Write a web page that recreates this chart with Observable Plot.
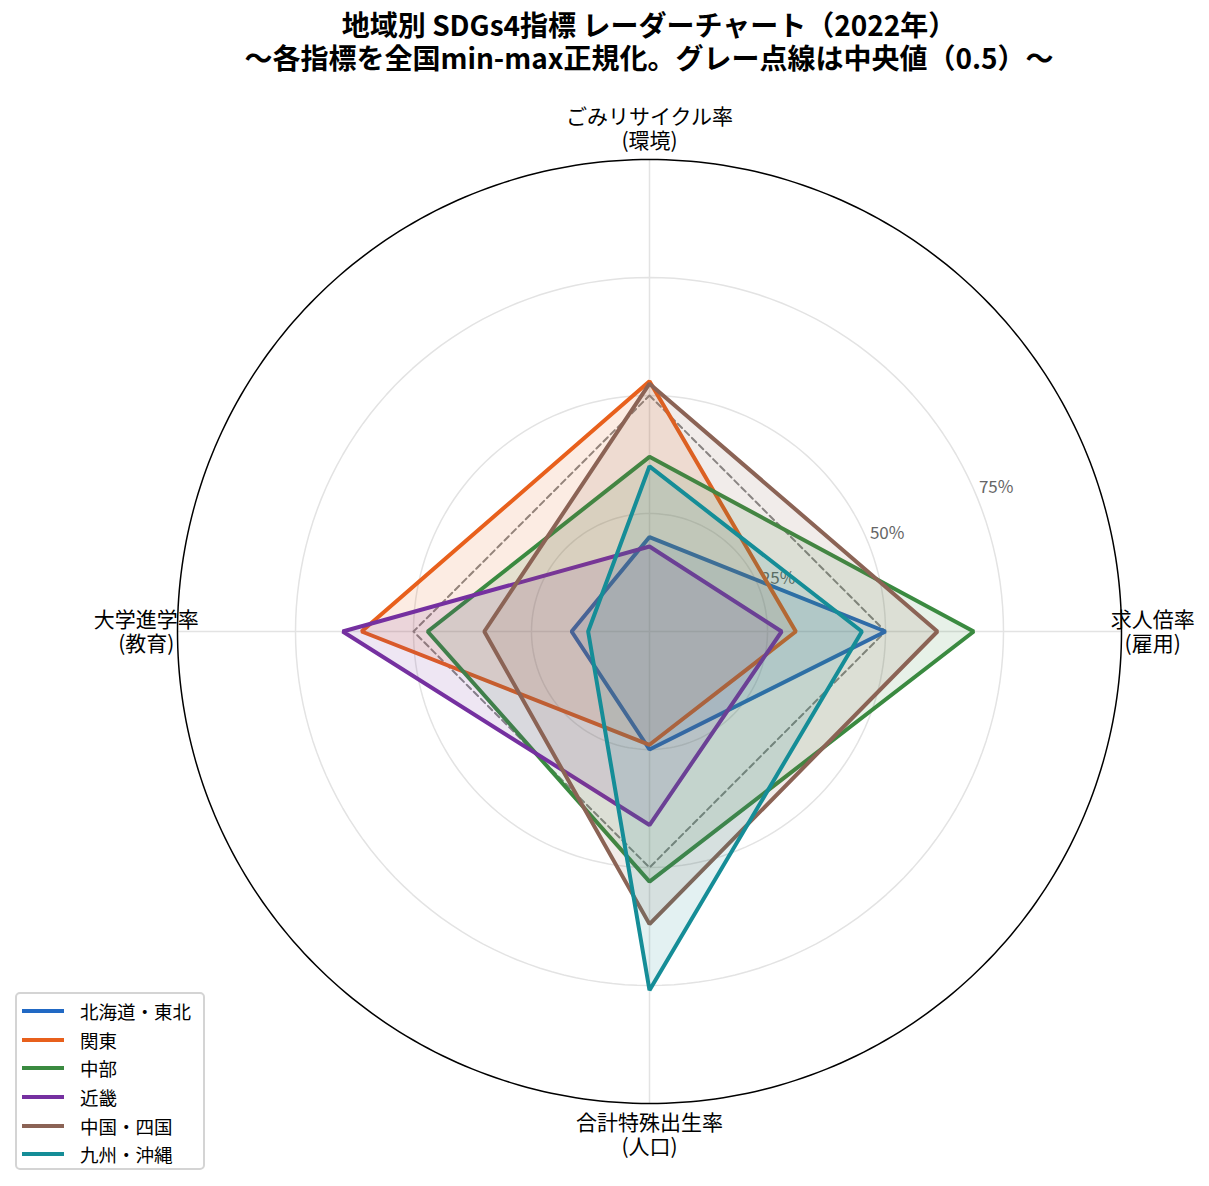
<!DOCTYPE html>
<html>
<head>
<meta charset="utf-8">
<script src="https://cdn.jsdelivr.net/npm/d3@7"></script>
<script src="https://cdn.jsdelivr.net/npm/@observablehq/plot@0.6"></script>
<style>
  html, body { margin: 0; padding: 0; background: white; }
  body { width: 1209px; height: 1186px; position: relative; overflow: hidden;
         font-family: "Noto Sans CJK JP", "Noto Sans", sans-serif; }
  #title { position: relative; height: 90px; }
  #title div { position: absolute; left: 649px; transform: translateX(-50%); white-space: nowrap;
               font-weight: bold; font-size: 28px; line-height: 32px; color: #000; }
  #legend { position: absolute; left: 15px; top: 992px; width: 190px; height: 178px;
            border: 2px solid #d4d4d4; border-radius: 5px; background: rgba(255,255,255,0.85);
            padding-top: 3px; box-sizing: border-box; }
  .item { height: 28.6px; display: flex; align-items: center; font-size: 18.5px; color: #000; }
  .swatch { width: 42px; height: 4px; margin-left: 5px; margin-right: 16px; }
</style>
</head>
<body>
<div id="title">
  <div style="top:8px">地域別 SDGs4指標 レーダーチャート（2022年）</div>
  <div style="top:41px">〜各指標を全国min-max正規化。グレー点線は中央値（0.5）〜</div>
</div>
<div id="chart"></div>
<div id="legend"></div>
<script>
// ---- data ----
const categories = ["ごみリサイクル率\n(環境)", "求人倍率\n(雇用)", "合計特殊出生率\n(人口)", "大学進学率\n(教育)"];
const regions = ["北海道・東北", "関東", "中部", "近畿", "中国・四国", "九州・沖縄"];
const colors = ["#2169c4", "#e8601c", "#3a8a40", "#7530a0", "#8b6355", "#158d97"];
// values order: recycle, job ratio, birth rate, university
const hokkaidoTohoku = [0.20, 0.50, 0.25, 0.165];
const kanto          = [0.53, 0.31, 0.24, 0.61];
const chubu          = [0.37, 0.687, 0.53, 0.47];
const kinki          = [0.18, 0.28, 0.41, 0.65];
const chugokuShikoku = [0.525, 0.61, 0.62, 0.35];
const kyushuOkinawa  = [0.35, 0.45, 0.76, 0.13];
const medianValues   = [0.5, 0.5, 0.5, 0.5];
const rTicks = [0.25, 0.5, 0.75];
const rTickLabels = ["25%", "50%", "75%"];

const series = [hokkaidoTohoku, kanto, chubu, kinki, chugokuShikoku, kyushuOkinawa];

// ---- geometry helpers ----
const ang = i => Math.PI / 2 - i * Math.PI / 2;  // clockwise from top
const px = (r, a) => r * Math.cos(a);
const py = (r, a) => r * Math.sin(a);

const rows = regions.map((name, k) =>
  series[k].map((v, i) => ({region: name, k, i, value: v})));
const medianRows = medianValues.map((v, i) => ({i, value: v}));
const axisRows = categories.map((c, i) => ({i, label: c}));
const gridRows = rTicks.flatMap(r => d3.range(0, 360, 2).map(deg => ({r, a: deg * Math.PI / 180})));
const outerRows = d3.range(0, 360, 1).map(deg => ({r: 1, a: deg * Math.PI / 180}));
const tickRows = rTicks.map((r, j) => ({r, label: rTickLabels[j]}));

const regionMarks = rows.flatMap((d, k) => [
  Plot.line(d, {x: e => px(e.value, ang(e.i)), y: e => py(e.value, ang(e.i)),
    curve: "linear-closed", stroke: "none", fill: colors[k], fillOpacity: 0.12}),
  Plot.line(d, {x: e => px(e.value, ang(e.i)), y: e => py(e.value, ang(e.i)),
    curve: "linear-closed", stroke: colors[k], strokeWidth: 4, strokeLinejoin: "miter"})
]);

const chart = Plot.plot({
  width: 1209, height: 1096,
  marginLeft: 177, marginRight: 88, marginTop: 69, marginBottom: 83,
  x: {domain: [-1, 1], axis: null},
  y: {domain: [-1, 1], axis: null},
  style: {fontFamily: '"Noto Sans CJK JP", "Noto Sans", sans-serif', background: "white", overflow: "visible"},
  marks: [
    Plot.line(gridRows, {x: d => px(d.r, d.a), y: d => py(d.r, d.a), z: "r",
      curve: "linear-closed", stroke: "#e3e3e3", strokeWidth: 1.5}),
    Plot.link(axisRows, {x1: 0, y1: 0, x2: d => px(1, ang(d.i)), y2: d => py(1, ang(d.i)),
      stroke: "#e3e3e3", strokeWidth: 1.5}),
    Plot.text(tickRows, {x: d => px(d.r + 0.045, Math.PI / 8), y: d => py(d.r + 0.045, Math.PI / 8),
      text: "label", fill: "#666", fontSize: 17}),
    Plot.line(medianRows, {x: d => px(d.value, ang(d.i)), y: d => py(d.value, ang(d.i)),
      curve: "linear-closed", stroke: "#888", strokeWidth: 2, strokeDasharray: "6,4"}),
    ...regionMarks,
    Plot.line(outerRows, {x: d => px(d.r, d.a), y: d => py(d.r, d.a),
      curve: "linear-closed", stroke: "#000", strokeWidth: 1.5}),
    Plot.text(axisRows, {x: d => px(1.066, ang(d.i)), y: d => py(1.066, ang(d.i)),
      text: "label", fontSize: 21, lineHeight: 1.12, fill: "#000"})
  ]
});
document.getElementById("chart").appendChild(chart);

// ---- legend ----
const legend = document.getElementById("legend");
regions.forEach((name, k) => {
  const item = document.createElement("div");
  item.className = "item";
  const sw = document.createElement("span");
  sw.className = "swatch";
  sw.style.background = colors[k];
  const tx = document.createElement("span");
  tx.textContent = name;
  item.appendChild(sw); item.appendChild(tx);
  legend.appendChild(item);
});
</script>
</body>
</html>
